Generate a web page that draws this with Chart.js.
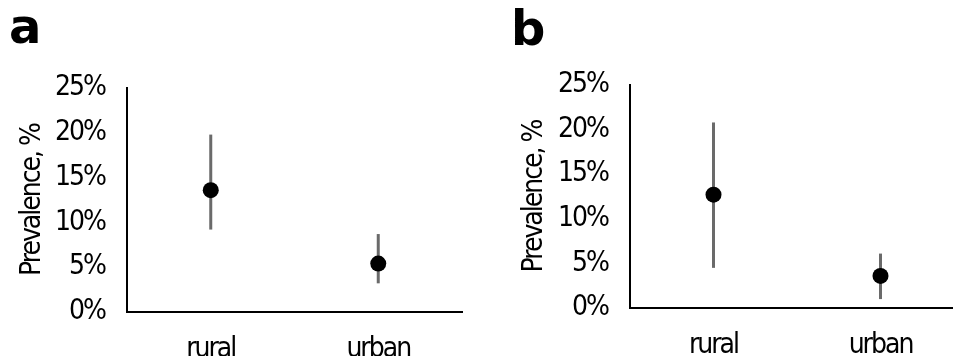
<!DOCTYPE html>
<html>
<head>
<meta charset="utf-8">
<script src="https://cdn.jsdelivr.net/npm/chart.js@4.4.1/dist/chart.umd.min.js"></script>
<style>
html,body{margin:0;padding:0;background:#fff;width:953px;height:356px;overflow:hidden;position:relative;}
.panel{position:absolute;top:0;height:356px;}
.lbl{position:absolute;font-family:'DejaVu Sans',sans-serif;font-weight:bold;font-size:48px;line-height:48px;color:#000;}
</style>
</head>
<body>
<div class="panel" style="left:0;width:476px;"><canvas id="cA" width="476" height="356"></canvas></div>
<div class="panel" style="left:477px;width:495px;"><canvas id="cB" width="495" height="356"></canvas></div>
<div class="lbl" style="left:9px;top:2px;">a</div>
<div class="lbl" style="left:511px;top:4px;">b</div>
<script>
const categories = ['rural', 'urban'];
const yTicks = [0, 5, 10, 15, 20, 25];
const yTitle = 'Prevalence, %';
// Panel a
const aPrevalence = [13.6, 5.4];
const aLower = [9.2, 3.2];
const aUpper = [19.8, 8.7];
// Panel b
const bPrevalence = [12.7, 3.6];
const bLower = [4.5, 1.0];
const bUpper = [20.8, 6.1];

const FONT = "'DejaVu Sans Condensed','DejaVu Sans',sans-serif";

const tightText = {
  id: 'tightText',
  beforeUpdate(chart) { chart.ctx.letterSpacing = '-2px'; },
  beforeLayout(chart) { chart.ctx.letterSpacing = '-2px'; },
  beforeDraw(chart) { chart.ctx.letterSpacing = '-2px'; }
};

const errorBars = {
  id: 'errorBars',
  beforeDatasetsDraw(chart, args, opts) {
    const ctx = chart.ctx, x = chart.scales.x, y = chart.scales.y;
    ctx.save();
    ctx.strokeStyle = '#6a6a6a';
    ctx.lineWidth = 3;
    opts.lower.forEach((lo, i) => {
      const px = x.getPixelForValue(i);
      ctx.beginPath();
      ctx.moveTo(px, y.getPixelForValue(lo));
      ctx.lineTo(px, y.getPixelForValue(opts.upper[i]));
      ctx.stroke();
    });
    ctx.restore();
  }
};

function makeChart(id, vals, lo, hi, pad, yWidth, xHeight, titlePad) {
  return new Chart(document.getElementById(id), {
    type: 'line',
    data: {
      labels: categories,
      datasets: [{
        data: vals,
        showLine: false,
        pointRadius: 8,
        pointHoverRadius: 8,
        pointBackgroundColor: '#000',
        pointBorderColor: '#000',
        pointBorderWidth: 0
      }]
    },
    options: {
      responsive: false,
      animation: false,
      events: [],
      layout: { padding: pad },
      plugins: {
        legend: { display: false },
        tooltip: { enabled: false },
        errorBars: { lower: lo, upper: hi }
      },
      scales: {
        x: {
          type: 'category',
          offset: true,
          grid: { display: false, drawTicks: false },
          border: { display: true, color: '#000', width: 2 },
          ticks: { color: '#000', font: { family: FONT, size: 28 }, padding: 21, maxRotation: 0 },
          afterFit(axis) { axis.height = xHeight; }
        },
        y: {
          min: 0, max: 25,
          afterBuildTicks(axis) { axis.ticks = yTicks.map(v => ({ value: v })); },
          grid: { display: false, drawTicks: false },
          border: { display: true, color: '#000', width: 2 },
          ticks: { color: '#000', font: { family: FONT, size: 28 }, padding: 22, callback: v => v + '%' },
          title: { display: true, text: yTitle, color: '#000', font: { family: FONT, size: 28 }, padding: { top: titlePad, bottom: 0 } },
          afterFit(axis) { axis.width = yWidth; }
        }
      }
    },
    plugins: [tightText, errorBars]
  });
}

makeChart('cA', aPrevalence, aLower, aUpper, { left: 0, right: 14, top: 88, bottom: 0 }, 127, 44, 16);
makeChart('cB', bPrevalence, bLower, bUpper, { left: 0, right: 6, top: 85, bottom: 0 }, 153, 48, 41);
</script>
</body>
</html>
